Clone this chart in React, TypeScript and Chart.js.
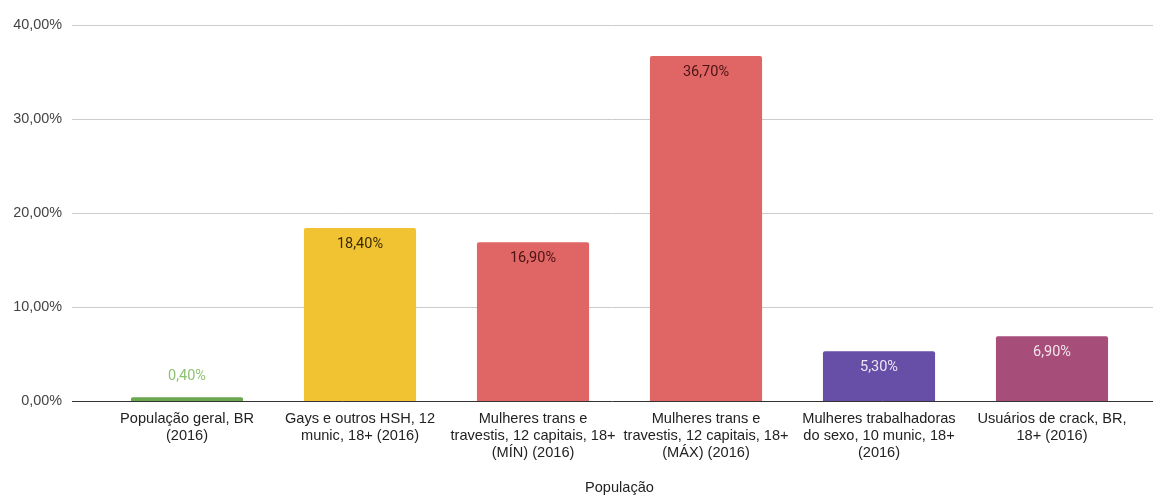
import React, { useEffect, useRef } from "react";
import { Chart, registerables } from "chart.js";

Chart.register(...registerables);

const categories: string[][] = [
  ["População geral, BR", "(2016)"],
  ["Gays e outros HSH, 12", "munic, 18+ (2016)"],
  ["Mulheres trans e", "travestis, 12 capitais, 18+", "(MÍN) (2016)"],
  ["Mulheres trans e", "travestis, 12 capitais, 18+", "(MÁX) (2016)"],
  ["Mulheres trabalhadoras", "do sexo, 10 munic, 18+", "(2016)"],
  ["Usuários de crack, BR,", "18+ (2016)"],
];
const values: number[] = [0.4, 18.4, 16.9, 36.7, 5.3, 6.9];
const yTicks: number[] = [0, 10, 20, 30, 40];
const xTitle = "População";

const barColors = ["#6aa84f", "#f1c232", "#e06666", "#e06666", "#674ea7", "#a64d79"];
const labelColors = ["#8fc173", "#3a2c00", "#4a1212", "#4a1212", "#ece6f6", "#f3e4ec"];

const fmt = (v: number) => v.toFixed(2).replace(".", ",") + "%";

const gridPlugin = {
  id: "extGrid",
  beforeDatasetsDraw(chart: any) {
    const ctx = chart.ctx;
    const y = chart.scales.y;
    ctx.save();
    yTicks.forEach((t) => {
      const py = Math.round(y.getPixelForValue(t)) + 0.5;
      ctx.beginPath();
      ctx.strokeStyle = t === 0 ? "#333333" : "#cccccc";
      ctx.lineWidth = 1;
      ctx.moveTo(72, py);
      ctx.lineTo(1153, py);
      ctx.stroke();
    });
    ctx.restore();
  },
};

const labelPlugin = {
  id: "barLabels",
  afterDatasetsDraw(chart: any) {
    const ctx = chart.ctx;
    const meta = chart.getDatasetMeta(0);
    ctx.save();
    ctx.font = "14.5px Roboto";
    ctx.textAlign = "center";
    ctx.textBaseline = "middle";
    meta.data.forEach((bar: any, i: number) => {
      const h = bar.base - bar.y;
      const inside = h > 28;
      const py = inside ? bar.y + 16 : bar.y - 21;
      ctx.fillStyle = labelColors[i];
      ctx.fillText(fmt(values[i]), bar.x, py);
    });
    ctx.restore();
  },
};

export default function App() {
  const ref = useRef<HTMLCanvasElement | null>(null);
  useEffect(() => {
    if (!ref.current) return;
    const chart = new Chart(ref.current, {
      type: "bar",
      data: {
        labels: categories as any,
        datasets: [
          {
            data: values,
            backgroundColor: barColors,
            borderRadius: { topLeft: 2, topRight: 2, bottomLeft: 0, bottomRight: 0 },
            borderSkipped: false,
            categoryPercentage: 1,
            barPercentage: 0.648,
          },
        ],
      },
      options: {
        animation: false,
        responsive: false,
        maintainAspectRatio: false,
        layout: { padding: { top: 25, right: 16.5, left: 0, bottom: 0 } },
        plugins: { legend: { display: false }, tooltip: { enabled: false } },
        scales: {
          x: {
            grid: { display: false, drawTicks: false },
            border: { display: false },
            ticks: {
              color: "#222222",
              font: { family: "Liberation Sans, Arial", size: 14.6, lineHeight: 1.165 },
              padding: 9,
              maxRotation: 0,
              autoSkip: false,
            },
            title: {
              display: true,
              text: xTitle,
              color: "#222222",
              font: { family: "Liberation Sans, Arial", size: 14.6 },
              padding: { top: 4, bottom: 0 },
            },
            afterFit: (s: any) => {
              s.height = 96;
            },
          },
          y: {
            min: 0,
            max: 40,
            grid: { display: false, drawTicks: false },
            border: { display: false },
            ticks: {
              stepSize: 10,
              color: "#444444",
              font: { family: "Liberation Sans, Arial", size: 14.4 },
              padding: 38.5,
              callback: (v: any) => fmt(Number(v)),
            },
            afterFit: (s: any) => {
              s.width = 100.5;
              s.paddingTop = 0;
              s.paddingBottom = 0;
            },
          },
        },
      },
      plugins: [gridPlugin, labelPlugin],
    });
    return () => chart.destroy();
  }, []);
  return (
    <div style={{ position: "fixed", left: 0, top: 0, width: 1155, height: 497, background: "#fff" }}>
      <canvas ref={ref} width={1155} height={497} style={{ width: 1155, height: 497 }} />
    </div>
  );
}
